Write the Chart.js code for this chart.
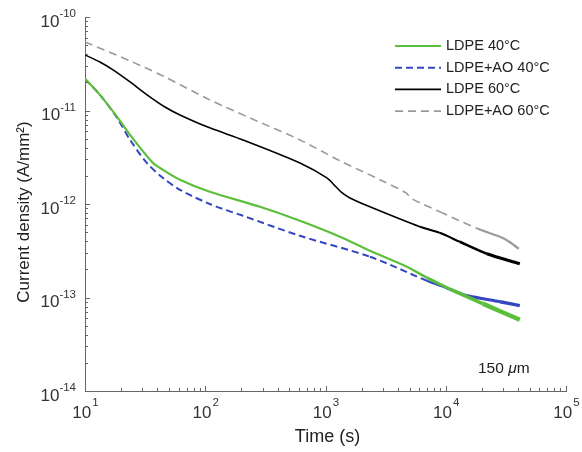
<!DOCTYPE html>
<html>
<head>
<meta charset="utf-8">
<title>Current density vs time</title>
<script src="https://cdn.jsdelivr.net/npm/chart.js@4/dist/chart.umd.min.js"></script>
<style>
  body { margin: 0; background: #fff; }
  #wrap { width: 582px; height: 452px; }
</style>
</head>
<body>
<div id="wrap"><canvas id="currentChart" width="582" height="452"></canvas></div>
<script>
// ==== Data ====
const timeLdpe40 = [10, 13.3, 18.5, 23.7, 36.1, 44.5, 61.6, 109, 285, 613, 1318, 2340, 4750, 6970, 11000, 20300, 41300];
const ldpe40 = [2.18e-11, 1.47e-11, 8.55e-12, 5.48e-12, 2.82e-12, 2.32e-12, 1.82e-12, 1.35e-12, 9.33e-13, 6.62e-13, 4.47e-13, 3.16e-13, 2.13e-13, 1.63e-13, 1.22e-13, 8.59e-14, 5.79e-14];

const timeLdpeAo40 = [10, 13.3, 18.5, 23.7, 32.7, 44.5, 61.6, 109, 206, 613, 2340, 6970, 10000, 15000, 28200, 41300];
const ldpeAo40 = [2.18e-11, 1.47e-11, 8.33e-12, 4.85e-12, 2.75e-12, 1.90e-12, 1.42e-12, 1.00e-12, 7.48e-13, 4.57e-13, 2.73e-13, 1.51e-13, 1.27e-13, 1.05e-13, 9.01e-14, 8.17e-14];

const timeLdpe60 = [10, 13.3, 17.1, 23.7, 32.8, 46.2, 61.6, 109, 206, 613, 1027, 1220, 1369, 1596, 2340, 6090, 8930, 13100, 21960, 41300];
const ldpe60 = [3.93e-11, 3.30e-11, 2.72e-11, 2.02e-11, 1.47e-11, 1.09e-11, 8.97e-12, 6.52e-12, 4.85e-12, 2.75e-12, 1.90e-12, 1.53e-12, 1.32e-12, 1.16e-12, 9.33e-13, 5.71e-13, 4.92e-13, 3.94e-13, 2.94e-13, 2.30e-13];

const timeLdpeAo60 = [10, 23.7, 44.5, 109, 235, 613, 1318, 2830, 4660, 5220, 8930, 18500, 28200, 32800, 40500];
const ldpeAo60 = [5.41e-11, 3.39e-11, 2.34e-11, 1.30e-11, 8.33e-12, 4.85e-12, 2.90e-12, 1.82e-12, 1.32e-12, 1.14e-12, 8.26e-13, 5.43e-13, 4.47e-13, 4.04e-13, 3.32e-13];

const xDecades = [1, 2, 3, 4, 5];
const yDecades = [-14, -13, -12, -11, -10];

const seriesLabels = ['LDPE 40\u00B0C', 'LDPE+AO 40\u00B0C', 'LDPE 60\u00B0C', 'LDPE+AO 60\u00B0C'];

function toPoints(xs, ys) {
  return xs.map((x, i) => ({ x: x, y: ys[i] }));
}

// noisy tail of the measurement: line gets thicker towards the end
function tailWidth(thin, thick, fromTime) {
  const a = Math.log10(fromTime);
  const b = Math.log10(42000);
  return c => {
    const t = Math.log10(c.p1.parsed.x);
    if (t <= a) return thin;
    const f = Math.min(1, (t - a) / (b - a));
    return thin + (thick - thin) * f;
  };
}

const FONT = '"Liberation Sans", Arial, sans-serif';

// ==== Inward ticks, decade labels, titles, legend and note ====
const decorPlugin = {
  id: 'decor',
  afterDraw(chart) {
    const c = chart.ctx;
    const xs = chart.scales.x;
    const ys = chart.scales.y;
    const area = chart.chartArea;

    c.save();
    c.strokeStyle = '#666';
    c.lineWidth = 1;
    c.beginPath();
    yDecades.forEach(d => {
      for (let k = 1; k <= 9; k++) {
        if (d === -10 && k > 1) break;
        const py = Math.round(ys.getPixelForValue(k * Math.pow(10, d))) + 0.5;
        const len = k === 1 ? 5 : 3;
        c.moveTo(area.left, py);
        c.lineTo(area.left + len, py);
      }
    });
    xDecades.forEach(d => {
      for (let k = 1; k <= 9; k++) {
        if (d === 5 && k > 1) break;
        const px = Math.round(xs.getPixelForValue(k * Math.pow(10, d))) + 0.5;
        const len = k === 1 ? 5 : 3;
        c.moveTo(px, area.bottom);
        c.lineTo(px, area.bottom - len);
      }
    });
    c.stroke();

    // tick labels 10^n
    c.fillStyle = '#333';
    c.textBaseline = 'middle';
    const baseFont = '17px ' + FONT;
    const expFont = '11.5px ' + FONT;
    yDecades.forEach(d => {
      const py = ys.getPixelForValue(Math.pow(10, d));
      const exp = String(d);
      c.font = expFont;
      const we = c.measureText(exp).width;
      const x0 = area.left - 9 - we;
      c.textAlign = 'left';
      c.fillText(exp, x0, py - 3);
      c.font = baseFont;
      c.textAlign = 'right';
      c.fillText('10', x0, py + 5);
    });
    xDecades.forEach(d => {
      const px = xs.getPixelForValue(Math.pow(10, d));
      const exp = String(d);
      c.font = baseFont;
      const wb = c.measureText('10').width;
      c.font = expFont;
      const we = c.measureText(exp).width;
      const x0 = px - (wb + we) / 2;
      c.textAlign = 'left';
      c.font = baseFont;
      c.fillText('10', x0, area.bottom + 22);
      c.font = expFont;
      c.fillText(exp, x0 + wb + 1, area.bottom + 12);
    });

    // axis titles
    c.fillStyle = '#222';
    c.font = '18px ' + FONT;
    c.textAlign = 'center';
    c.fillText('Time (s)', (area.left + area.right) / 2 + 2, 437);
    c.save();
    c.translate(24, 212);
    c.rotate(-Math.PI / 2);
    c.font = '17px ' + FONT;
    c.fillText('Current density (A/mm\u00B2)', 0, 0);
    c.restore();

    // legend inside the plot, top right
    c.font = '14.5px ' + FONT;
    c.textAlign = 'left';
    chart.data.datasets.forEach((ds, i) => {
      const ly = 46 + i * 21.7;
      c.strokeStyle = ds.borderColor;
      c.lineWidth = ds.legendWidth;
      c.setLineDash(ds.borderDash || []);
      c.beginPath();
      c.moveTo(395, ly);
      c.lineTo(441, ly);
      c.stroke();
      c.setLineDash([]);
      c.fillStyle = '#222';
      c.fillText(ds.label, 446, ly);
    });

    // sample thickness note
    c.fillStyle = '#222';
    c.font = '15.5px ' + FONT;
    c.fillText('150 ', 478, 369);
    let w = c.measureText('150 ').width;
    c.font = 'italic 15.5px ' + FONT;
    c.fillText('\u03BC', 478 + w, 369);
    w += c.measureText('\u03BC').width;
    c.font = '15.5px ' + FONT;
    c.fillText('m', 478 + w, 369);
    c.restore();
  }
};

// ==== Chart ====
const ctx = document.getElementById('currentChart');
new Chart(ctx, {
  type: 'line',
  data: {
    datasets: [
      {
        label: seriesLabels[0],
        data: toPoints(timeLdpe40, ldpe40),
        borderColor: '#5cbf3c',
        borderWidth: 2.2,
        legendWidth: 2,
        segment: { borderWidth: tailWidth(2.2, 4.5, 6000) }
      },
      {
        label: seriesLabels[1],
        data: toPoints(timeLdpeAo40, ldpeAo40),
        borderColor: '#3447c0',
        borderWidth: 2,
        legendWidth: 2,
        borderDash: [7, 4],
        segment: {
          borderWidth: tailWidth(2, 3.4, 6900),
          borderDash: c => (c.p0.parsed.x >= 6900 ? [] : [7, 4])
        }
      },
      {
        label: seriesLabels[2],
        data: toPoints(timeLdpe60, ldpe60),
        borderColor: '#000000',
        borderWidth: 1.6,
        legendWidth: 1.6,
        segment: { borderWidth: tailWidth(1.6, 3.2, 6000) }
      },
      {
        label: seriesLabels[3],
        data: toPoints(timeLdpeAo60, ldpeAo60),
        borderColor: '#9a9a9a',
        borderWidth: 1.6,
        legendWidth: 1.6,
        borderDash: [8, 5],
        segment: {
          borderWidth: tailWidth(1.6, 2.4, 18000),
          borderDash: c => (c.p0.parsed.x >= 18000 ? [] : [8, 5])
        }
      }
    ]
  },
  options: {
    responsive: false,
    animation: false,
    layout: { padding: { top: 17, right: 16, left: 0, bottom: 0 } },
    elements: {
      point: { radius: 0 },
      line: { tension: 0.3, fill: false }
    },
    plugins: {
      legend: { display: false },
      tooltip: { enabled: false }
    },
    scales: {
      x: {
        type: 'logarithmic',
        min: 10,
        max: 100000,
        grid: { display: false },
        border: { display: true, color: '#666', width: 1 },
        ticks: { display: false },
        afterFit(scale) { scale.height = 61; }
      },
      y: {
        type: 'logarithmic',
        min: 1e-14,
        max: 1e-10,
        grid: { display: false },
        border: { display: true, color: '#666', width: 1 },
        ticks: { display: false },
        afterFit(scale) { scale.width = 85; }
      }
    }
  },
  plugins: [decorPlugin]
});
</script>
</body>
</html>
